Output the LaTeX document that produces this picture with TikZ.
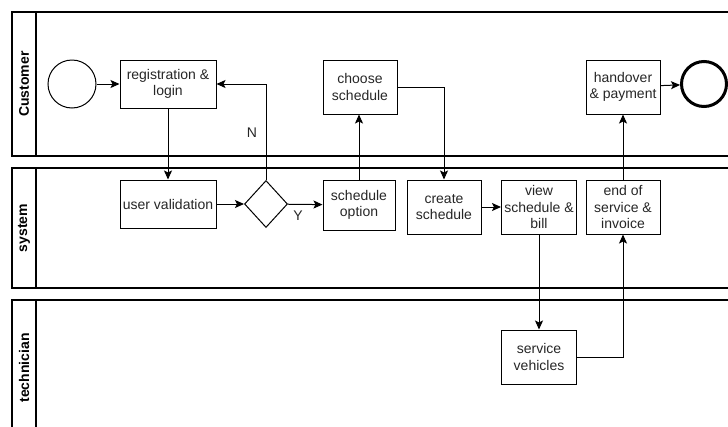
\documentclass[tikz,border=0pt]{standalone}
\usepackage{fontspec}
\setmainfont{Liberation Sans}
\usetikzlibrary{shapes.geometric,arrows.meta}

\tikzset{
  task/.style={draw, line width=1pt, inner sep=0pt, align=center,
    minimum width=74, minimum height=54, text=black!85},
  lane/.style={draw, line width=1.5pt},
  lanelabel/.style={rotate=90, font=\fontsize{14}{16}\selectfont\bfseries},
  flow/.style={->, line width=1pt}
}

\begin{document}
\begin{tikzpicture}[>={Stealth[length=9pt, width=8pt, inset=2pt]}, x=1pt, y=-1pt,
    font=\fontsize{14}{16.5}\selectfont]
  \useasboundingbox (0,0) rectangle (728,426);
  \clip (0,0) rectangle (728,426);

  % Lanes
  \draw[lane] (12,12) rectangle (745,156);
  \draw[lane] (36,12) -- (36,156);
  \draw[lane] (12,168) rectangle (745,288);
  \draw[lane] (36,168) -- (36,288);
  \draw[lane] (12,300) rectangle (745,445);
  \draw[lane] (36,300) -- (36,445);
  \node[lanelabel] (lcust) at (24,84) {Customer};
  \node[lanelabel] (lsys) at (24,228) {system};
  \node[lanelabel] (ltech) at (24,368) {technician};

  % Events
  \node[draw, circle, line width=1pt, minimum size=48, inner sep=0pt] (start) at (72,84) {};
  \node[draw, circle, line width=3pt, minimum size=45, inner sep=0pt] (stop) at (704,84) {};

  % Tasks
  \node[task, minimum width=96, minimum height=48] (reg) at (168,84) {registration \&\\login};
  \node[task, minimum width=96, minimum height=48] (valid) at (168,204) {user validation};
  \node[draw, diamond, line width=1pt, inner sep=0pt, minimum width=43, minimum height=47] (dec) at (266,204) {};
  \node[task, minimum width=72, minimum height=50] (opt) at (359,205) {schedule\\option};
  \node[task] (choose) at (360,87) {choose\\schedule};
  \node[task] (create) at (444,207) {create\\schedule};
  \node[task, minimum width=75] (view) at (539,207) {view\\schedule \&\\bill};
  \node[task] (endsvc) at (623,207) {end of\\service \&\\invoice};
  \node[task] (hand) at (623,87) {handover\\\& payment};
  \node[task, minimum width=75] (svc) at (539,357) {service\\vehicles};

  % Flows
  \draw[flow] (start) -- (reg);
  \draw[flow] (reg) -- (valid);
  \draw[flow] (valid) -- (dec);
  \draw[flow] (dec.north) |- (reg.east);
  \draw[flow] (dec) -- (opt);
  \draw[flow] (opt.north) -- (opt.north |- choose.south);
  \draw[flow] (choose.east) -| (create.north);
  \draw[flow] (create) -- (view);
  \draw[flow] (view) -- (svc);
  \draw[flow] (svc.east) -| (endsvc.south);
  \draw[flow] (endsvc) -- (hand);
  \draw[flow] (hand) -- (stop);

  % Branch labels
  \node[text=black!85] (lno) at (252,133) {N};
  \node[text=black!85] (lyes) at (298,216) {Y};
\end{tikzpicture}
\end{document}
